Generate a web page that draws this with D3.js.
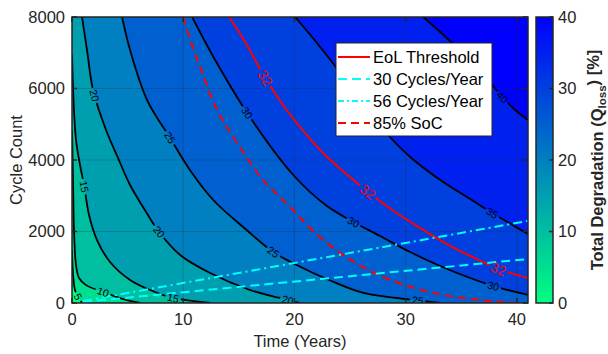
<!DOCTYPE html>
<html>
<head>
<meta charset="utf-8">
<script src="https://cdn.jsdelivr.net/npm/d3@7"></script>
<style>
  body { margin: 0; background: #fff; }
  text { font-family: Arial, "Liberation Sans", sans-serif; fill: #262626; }
</style>
</head>
<body>
<svg width="608" height="354"></svg>
<script>
// contour levels of total degradation [%]
const levels = [5, 10, 15, 20, 25, 30, 35, 40];

// contour lines, [years, cycles]
const q05 = [[0, 1480], [0.1, 780], [0.27, 360], [0.54, 170], [0.9, 0]];
const q10 = [[0, 4840], [0.09, 3440], [0.18, 2040], [0.36, 1060], [0.63, 700], [1.26, 500], [2.8, 310], [4.6, 110], [6.1, 0]];
const q15 = [[0, 6937], [0.135, 5678], [0.36, 4559], [0.72, 3860], [1.08, 3300], [1.53, 2461], [2.25, 1762], [3.42, 1147], [5.22, 643], [7.02, 364], [9.09, 140], [12.4, 0]];
const q20 = [[0.9, 8000], [1.35, 7076], [1.89, 5958], [3.06, 4839], [4.14, 4056], [5.22, 3300], [6.66, 2545], [7.83, 1986], [9.72, 1343], [12.42, 839], [16.0, 364], [18.7, 140], [20.5, 0]];
const q25 = [[4.5, 8000], [5.22, 7076], [6.75, 5678], [8.82, 4615], [10.6, 3720], [12.7, 2881], [15.7, 2042], [18.1, 1426], [20.2, 1063], [23.1, 643], [26.2, 280], [29.2, 140], [33.1, 0]];
const q30 = [[10.8, 8000], [12.87, 6797], [15.75, 5315], [19.9, 3580], [22.8, 2741], [25.3, 2266], [27.7, 1874], [30.4, 1426], [33.1, 1035], [35.8, 699], [37.9, 475], [41, 224]];
const q35 = [[20.06, 8000], [21.95, 7300], [23.93, 6517], [26.09, 5594], [28.34, 4727], [30.41, 4084], [33.11, 3440], [35.81, 2909], [37.79, 2517], [41, 1930]];
const q40 = [[31.58, 8000], [33.11, 7580], [34.46, 7188], [36.26, 6657], [37.79, 6098], [38.69, 5762], [39.86, 5398], [41, 5118]];
const contours = [q05, q10, q15, q20, q25, q30, q35, q40];

const eol32 = [[14.13, 8000], [15.57, 7300], [17.37, 6293], [19.17, 5454], [20.96, 4754], [22.76, 4140], [24.56, 3636], [26.63, 3105], [29.06, 2545], [31.31, 2098], [33.56, 1678], [35.81, 1315], [38.33, 951], [41, 699]];
const soc85 = [[9.99, 8000], [10.8, 7216], [11.52, 6601], [13.05, 5398], [14.85, 4475], [17.19, 3440], [19.62, 2685], [21.77, 1986], [24.65, 1287], [27.98, 727], [32.12, 308], [36.71, 84], [39.86, 0]];
const cyc30 = [[1, 30], [41, 1230]];
const cyc56 = [[1, 56], [41, 2296]];

// inline label spots [level, years, cycles]
const lineLabels = [[5, 0.54, 170], [10, 2.8, 300], [15, 1.1, 3260], [15, 9.1, 140], [20, 2.0, 5800], [20, 7.8, 1990], [20, 19.4, 90],
  [25, 8.8, 4615], [25, 18.1, 1430], [25, 31.1, 90], [30, 15.75, 5315], [30, 25.3, 2266], [30, 37.9, 475], [35, 37.8, 2517], [40, 38.7, 5760]];
const eolLabels = [[32, 17.4, 6290], [32, 26.6, 3105], [32, 38.3, 950]];

const xTicks = [0, 10, 20, 30, 40];
const yTicks = [0, 2000, 4000, 6000, 8000];
const cTicks = [0, 10, 20, 30, 40];
const legendItems = ['EoL Threshold', '30 Cycles/Year', '56 Cycles/Year', '85% SoC'];

let svg = d3.select('svg');
let x = d3.scaleLinear().domain([0, 41]).range([72, 528]);
let y = d3.scaleLinear().domain([0, 8000]).range([303, 17]);
let color = d3.scaleLinear().domain([0, 40]).range(['#00ff80', '#0000ff']);
let axisCol = '#262626';

let defs = svg.append('defs');
defs.append('clipPath').attr('id', 'plot')
  .append('rect').attr('x', 72).attr('y', 17).attr('width', 456).attr('height', 286);

let line = d3.line()
  .x(d => x(d[0])).y(d => y(d[1]))
  .curve(d3.curveCatmullRom.alpha(0.5));

// region where degradation is above a contour (towards top right)
function regionAbove(pts) {
  let p0 = pts[0], pn = pts[pts.length - 1];
  let L = 50, R = 560, T = -10, B = 330;
  let d = line(pts);
  if (pn[1] <= 0) d += `L${x(pn[0])},${B}L${R},${B}`;
  else d += `L${R},${y(pn[1])}`;
  d += `L${R},${T}`;
  if (p0[0] <= 0) d += `L${L},${T}L${L},${y(p0[1])}`;
  else d += `L${x(p0[0])},${T}`;
  return d + 'Z';
}

let plot = svg.append('g').attr('clip-path', 'url(#plot)');

plot.append('rect')
  .attr('x', 72).attr('y', 17).attr('width', 456).attr('height', 286)
  .attr('fill', color(0));

plot.selectAll('path.band')
  .data(contours)
  .enter().append('path')
  .attr('class', 'band')
  .attr('d', regionAbove)
  .attr('fill', (d, i) => color(levels[i]));

// grid
plot.append('g').selectAll('line')
  .data(xTicks).enter().append('line')
  .attr('x1', x).attr('x2', x).attr('y1', 17).attr('y2', 303)
  .attr('stroke', axisCol).attr('stroke-opacity', 0.25);
plot.append('g').selectAll('line')
  .data(yTicks).enter().append('line')
  .attr('y1', y).attr('y2', y).attr('x1', 72).attr('x2', 528)
  .attr('stroke', axisCol).attr('stroke-opacity', 0.25);

let mask = defs.append('mask').attr('id', 'gaps');
mask.append('rect').attr('width', 608).attr('height', 354).attr('fill', '#fff');

let lineG = plot.append('g').attr('mask', 'url(#gaps)');

let cPaths = lineG.selectAll('path.c')
  .data(contours)
  .enter().append('path')
  .attr('class', 'c')
  .attr('d', line)
  .attr('fill', 'none')
  .attr('stroke', '#000')
  .attr('stroke-width', 1.8);

let eolPath = lineG.append('path')
  .attr('d', line(eol32))
  .attr('fill', 'none')
  .attr('stroke', '#ff0000')
  .attr('stroke-width', 2);

plot.append('path')
  .attr('d', line(soc85))
  .attr('fill', 'none')
  .attr('stroke', '#ff0000')
  .attr('stroke-width', 2)
  .attr('stroke-dasharray', '8,5');

plot.append('path')
  .attr('d', d3.line().x(d => x(d[0])).y(d => y(d[1]))(cyc30))
  .attr('fill', 'none')
  .attr('stroke', '#00ffff')
  .attr('stroke-width', 2)
  .attr('stroke-dasharray', '9,5');

plot.append('path')
  .attr('d', d3.line().x(d => x(d[0])).y(d => y(d[1]))(cyc56))
  .attr('fill', 'none')
  .attr('stroke', '#00ffff')
  .attr('stroke-width', 2)
  .attr('stroke-dasharray', '9,4,2,4');

// snap a label onto its path and take the local slope
function snap(node, px, py) {
  let len = node.getTotalLength(), best = 0, bd = Infinity;
  for (let s = 0; s <= len; s += 0.5) {
    let p = node.getPointAtLength(s);
    let dd = (p.x - px) * (p.x - px) + (p.y - py) * (p.y - py);
    if (dd < bd) { bd = dd; best = s; }
  }
  let p = node.getPointAtLength(best);
  let a = node.getPointAtLength(Math.max(0, best - 5));
  let b = node.getPointAtLength(Math.min(len, best + 5));
  let ang = Math.atan2(b.y - a.y, b.x - a.x) * 180 / Math.PI;
  if (ang > 90) ang -= 180;
  if (ang < -90) ang += 180;
  return { x: p.x, y: p.y, ang: ang };
}

let labG = plot.append('g');

function addLabel(node, d, fs, fill) {
  let s = snap(node, x(d[1]), y(d[2]));
  let w = String(d[0]).length * 0.556 * fs + 4;
  mask.append('rect')
    .attr('x', -w / 2).attr('y', -fs * 0.5).attr('width', w).attr('height', fs)
    .attr('transform', `translate(${s.x},${s.y})rotate(${s.ang})`)
    .attr('fill', '#000');
  labG.append('text')
    .attr('transform', `translate(${s.x},${s.y})rotate(${s.ang})`)
    .attr('text-anchor', 'middle')
    .attr('dy', '0.36em')
    .style('font-size', fs + 'px')
    .style('fill', fill)
    .text(d[0]);
}

lineLabels.forEach(d => {
  addLabel(cPaths.nodes()[levels.indexOf(d[0])], d, 10.5, '#000');
});
eolLabels.forEach(d => {
  addLabel(eolPath.node(), d, 14, '#ff0000');
});

// axes box and ticks
let ax = svg.append('g');
ax.append('rect')
  .attr('x', 72).attr('y', 17).attr('width', 456).attr('height', 286)
  .attr('fill', 'none').attr('stroke', axisCol).attr('stroke-width', 1.5);

let tl = 5;
xTicks.forEach(t => {
  ax.append('line').attr('x1', x(t)).attr('x2', x(t)).attr('y1', 303).attr('y2', 303 - tl).attr('stroke', axisCol).attr('stroke-width', 1.5);
  ax.append('line').attr('x1', x(t)).attr('x2', x(t)).attr('y1', 17).attr('y2', 17 + tl).attr('stroke', axisCol).attr('stroke-width', 1.5);
  ax.append('text').attr('x', x(t)).attr('y', 325).attr('text-anchor', 'middle').style('font-size', '16.5px').text(t);
});
yTicks.forEach(t => {
  ax.append('line').attr('y1', y(t)).attr('y2', y(t)).attr('x1', 72).attr('x2', 72 + tl).attr('stroke', axisCol).attr('stroke-width', 1.5);
  ax.append('line').attr('y1', y(t)).attr('y2', y(t)).attr('x1', 528).attr('x2', 528 - tl).attr('stroke', axisCol).attr('stroke-width', 1.5);
  ax.append('text').attr('x', 65).attr('y', y(t)).attr('dy', '0.36em').attr('text-anchor', 'end').style('font-size', '16.5px').text(t);
});

ax.append('text')
  .attr('x', 300).attr('y', 347)
  .attr('text-anchor', 'middle')
  .style('font-size', '16.5px')
  .text('Time (Years)');

ax.append('text')
  .attr('transform', 'translate(22,160)rotate(-90)')
  .attr('text-anchor', 'middle')
  .style('font-size', '16.5px')
  .text('Cycle Count');

// legend
let leg = svg.append('g');
leg.append('rect')
  .attr('x', 336).attr('y', 43).attr('width', 156).attr('height', 93)
  .attr('fill', '#fff').attr('stroke', axisCol).attr('stroke-width', 1);
let legStyle = [
  { c: '#ff0000', dash: null },
  { c: '#00ffff', dash: '9,5' },
  { c: '#00ffff', dash: '6,3,2,3' },
  { c: '#ff0000', dash: '8,5' }
];
legendItems.forEach((name, i) => {
  let yy = 57 + i * 22;
  leg.append('line')
    .attr('x1', 338).attr('x2', 370).attr('y1', yy).attr('y2', yy)
    .attr('stroke', legStyle[i].c).attr('stroke-width', 2)
    .attr('stroke-dasharray', legStyle[i].dash);
  leg.append('text')
    .attr('x', 373).attr('y', yy).attr('dy', '0.36em')
    .style('font-size', '16.5px').style('fill', '#000')
    .text(name);
});

// colorbar
let cy = d3.scaleLinear().domain([0, 40]).range([303, 17]);
let grad = defs.append('linearGradient').attr('id', 'cbar')
  .attr('x1', 0).attr('y1', 1).attr('x2', 0).attr('y2', 0);
grad.append('stop').attr('offset', 0).attr('stop-color', color(0));
grad.append('stop').attr('offset', 1).attr('stop-color', color(40));

let cb = svg.append('g');
cb.append('rect')
  .attr('x', 536).attr('y', 17).attr('width', 17).attr('height', 286)
  .attr('fill', 'url(#cbar)').attr('stroke', axisCol).attr('stroke-width', 1.5);
cTicks.forEach(t => {
  cb.append('line').attr('x1', 553).attr('x2', 549).attr('y1', cy(t)).attr('y2', cy(t)).attr('stroke', axisCol).attr('stroke-width', 1.5);
  cb.append('text').attr('x', 558).attr('y', cy(t)).attr('dy', '0.36em').style('font-size', '16.5px').text(t);
});

let cbl = cb.append('text')
  .attr('transform', 'translate(603,160)rotate(-90)')
  .attr('text-anchor', 'middle')
  .style('font-size', '16.5px')
  .style('font-weight', 'bold');
cbl.append('tspan').text('Total Degradation (Q');
cbl.append('tspan').attr('dy', '0.3em').style('font-size', '11.5px').text('loss');
cbl.append('tspan').attr('dy', '-0.45em').text(') [%]');
</script>
</body>
</html>
